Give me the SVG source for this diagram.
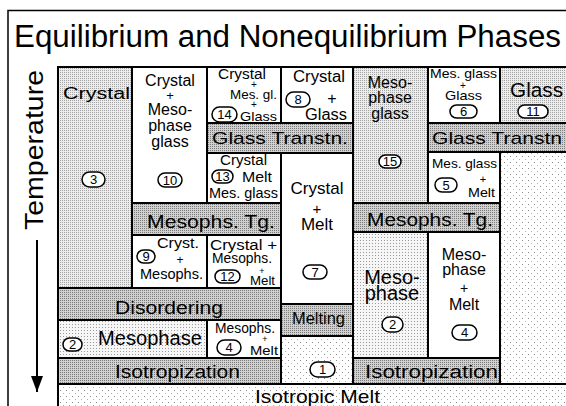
<svg xmlns="http://www.w3.org/2000/svg" width="566" height="406" viewBox="0 0 566 406">
<style>
text{font-family:"Liberation Sans",Arial,sans-serif;fill:#000}
.c{text-anchor:middle}
.cell{stroke:#000;stroke-width:2}
.white{fill:#fff}
.stip{fill:url(#pStip)}
.band{fill:url(#pBand)}
.meso{fill:url(#pMeso)}
.melt{fill:url(#pMelt)}
.badge{fill:#fff;stroke:#000;stroke-width:1.5}
.bn{font-size:13px;text-anchor:middle}
</style>
<defs>
<pattern id="pStip" width="2" height="2" patternUnits="userSpaceOnUse"><rect width="2" height="2" fill="#ececec"/><rect width="1" height="1" fill="#a4a4a4"/></pattern>
<pattern id="pBand" width="2" height="2" patternUnits="userSpaceOnUse"><rect width="2" height="2" fill="#d0d0d0"/><rect width="1" height="1" fill="#7c7c7c"/></pattern>
<pattern id="pMeso" width="3" height="3" patternUnits="userSpaceOnUse"><rect width="3" height="3" fill="#f6f6f6"/><rect width="1" height="1" fill="#9a9a9a"/></pattern>
<pattern id="pMelt" width="6" height="6" patternUnits="userSpaceOnUse"><rect width="6" height="6" fill="#fff"/><rect width="1" height="1" fill="#8a8a8a"/><rect x="3" y="3" width="1" height="1" fill="#b0b0b0"/></pattern>
<marker id="arr" viewBox="0 0 16 12" refX="16" refY="6" markerWidth="16" markerHeight="12" markerUnits="userSpaceOnUse" orient="auto"><path d="M0,0 L16,6 L0,12 Z" fill="#000"/></marker>
</defs>
<rect width="566" height="406" fill="#fff"/>
<g id="frame" stroke="#000" stroke-width="1.5" fill="none"><path d="M8,406 V10.5 H566"/></g>
<g id="title"><text x="14" y="47" font-size="31" textLength="547" lengthAdjust="spacingAndGlyphs">Equilibrium and Nonequilibrium Phases</text></g>
<g id="axis"><text transform="translate(43,150) rotate(-90)" class="c" font-size="26" textLength="160" lengthAdjust="spacingAndGlyphs">Temperature</text></g>

<g id="isotropic-melt">
<path class="melt cell" d="M58,384 H570 V410 H58 Z"/>
<rect class="melt cell" x="500" y="152" width="70" height="232"/>
<text x="255" y="403" font-size="19" textLength="125" lengthAdjust="spacingAndGlyphs">Isotropic Melt</text>
</g>
<g id="n3"><rect class="stip cell" x="58" y="67" width="74" height="221"/>
<text x="63" y="99" font-size="16" textLength="67" lengthAdjust="spacingAndGlyphs">Crystal</text>
<rect class="badge" x="82" y="172" width="23" height="15" rx="7.5"/><text class="bn" x="93.5" y="184">3</text></g>
<g id="n10"><rect class="white cell" x="132" y="67" width="75" height="136"/>
<g font-size="16" class="c"><text x="170" y="86">Crystal</text><text x="170" y="100" font-size="13">+</text><text x="170" y="115">Meso-</text><text x="170" y="131">phase</text><text x="170" y="147">glass</text></g>
<rect class="badge" x="158" y="173" width="24" height="14" rx="7"/><text class="bn" x="170" y="185">10</text></g>
<g id="n14"><rect class="white cell" x="207" y="67" width="74" height="56"/>
<text x="218" y="79" font-size="14" textLength="48" lengthAdjust="spacingAndGlyphs">Crystal</text>
<text class="c" x="254" y="88" font-size="10">+</text>
<text x="230" y="99" font-size="13" textLength="47" lengthAdjust="spacingAndGlyphs">Mes. gl.</text>
<text class="c" x="254" y="108" font-size="10">+</text>
<rect class="badge" x="212" y="107" width="25" height="15" rx="7.5"/><text class="bn" x="224.5" y="119">14</text>
<text x="240" y="121" font-size="13" textLength="37" lengthAdjust="spacingAndGlyphs">Glass</text></g>
<g id="n8"><rect class="white cell" x="281" y="67" width="72" height="56"/>
<text x="293" y="82" font-size="16" textLength="52" lengthAdjust="spacingAndGlyphs">Crystal</text>
<rect class="badge" x="286" y="92" width="24" height="15" rx="7.5"/><text class="bn" x="298" y="104">8</text>
<text class="c" x="332" y="104" font-size="16">+</text>
<text x="305" y="120" font-size="16" textLength="42" lengthAdjust="spacingAndGlyphs">Glass</text></g>
<g id="glass-transition-left"><rect class="band cell" x="207" y="123" width="146" height="30"/>
<text x="212" y="144" font-size="17" textLength="136" lengthAdjust="spacingAndGlyphs">Glass Transtn.</text></g>
<g id="n13"><rect class="white cell" x="207" y="153" width="74" height="50"/>
<text x="220" y="165" font-size="14" textLength="47" lengthAdjust="spacingAndGlyphs">Crystal</text>
<rect class="badge" x="212" y="170" width="21" height="13" rx="6.5"/><text class="bn" x="222.5" y="181" font-size="12">13</text>
<text x="242" y="182" font-size="14" textLength="30" lengthAdjust="spacingAndGlyphs">Melt</text>
<text x="209" y="198" font-size="14" textLength="69" lengthAdjust="spacingAndGlyphs">Mes. glass</text></g>
<g id="n7"><rect class="white cell" x="281" y="153" width="72" height="151"/>
<g class="c" font-size="17"><text x="317" y="194">Crystal</text><text x="317" y="214" font-size="15">+</text><text x="317" y="230">Melt</text></g>
<rect class="badge" x="303" y="265" width="24" height="14" rx="7"/><text class="bn" x="315" y="277">7</text></g>
<g id="n15"><rect class="stip cell" x="353" y="67" width="75" height="136"/>
<g class="c" font-size="16"><text x="390" y="88">Meso-</text><text x="390" y="103">phase</text><text x="390" y="119">glass</text></g>
<rect class="badge" x="379" y="155" width="22" height="13" rx="6.5"/><text class="bn" x="390" y="166">15</text></g>
<g id="n6"><rect class="white cell" x="428" y="67" width="72" height="56"/>
<text x="430" y="78" font-size="13" textLength="67" lengthAdjust="spacingAndGlyphs">Mes. glass</text>
<text class="c" x="463" y="89" font-size="10">+</text>
<text x="445" y="100" font-size="13" textLength="37" lengthAdjust="spacingAndGlyphs">Glass</text>
<rect class="badge" x="450" y="105" width="27" height="13" rx="6.5"/><text class="bn" x="463.5" y="116">6</text></g>
<g id="n11"><rect class="stip cell" x="500" y="67" width="70" height="56"/>
<text x="510" y="97" font-size="20" textLength="53" lengthAdjust="spacingAndGlyphs">Glass</text>
<rect class="badge" x="518" y="105" width="30" height="13" rx="6.5"/><text class="bn" x="533" y="116">11</text></g>
<g id="glass-transition-right"><rect class="band cell" x="428" y="123" width="142" height="29"/>
<text x="432" y="144" font-size="17" textLength="130" lengthAdjust="spacingAndGlyphs">Glass Transtn</text></g>
<g id="n5"><rect class="white cell" x="428" y="152" width="72" height="51"/>
<text x="432" y="168" font-size="13" textLength="65" lengthAdjust="spacingAndGlyphs">Mes. glass</text>
<rect class="badge" x="435" y="178" width="22" height="14" rx="7"/><text class="bn" x="446" y="190">5</text>
<text class="c" x="483" y="183" font-size="11">+</text>
<text x="468" y="197" font-size="13" textLength="27" lengthAdjust="spacingAndGlyphs">Melt</text></g>
<g id="mesophase-tg-left"><rect class="band cell" x="132" y="203" width="149" height="32"/>
<text x="147" y="228" font-size="18" textLength="128" lengthAdjust="spacingAndGlyphs">Mesophs. Tg.</text></g>
<g id="mesophase-tg-right"><rect class="band cell" x="353" y="203" width="147" height="29"/>
<text x="367" y="226" font-size="18" textLength="126" lengthAdjust="spacingAndGlyphs">Mesophs. Tg.</text></g>
<g id="n9"><rect class="white cell" x="132" y="235" width="75" height="53"/>
<rect class="badge" x="137" y="250" width="18" height="13" rx="6.5"/><text class="bn" x="146" y="261">9</text>
<text x="157" y="248" font-size="14" textLength="42" lengthAdjust="spacingAndGlyphs">Cryst.</text>
<text class="c" x="180" y="264" font-size="12">+</text>
<text x="140" y="279" font-size="14" textLength="63" lengthAdjust="spacingAndGlyphs">Mesophs.</text></g>
<g id="n12"><rect class="white cell" x="207" y="235" width="74" height="53"/>
<text x="210" y="250" font-size="14" textLength="67" lengthAdjust="spacingAndGlyphs">Crystal +</text>
<text x="212" y="263" font-size="14" textLength="60" lengthAdjust="spacingAndGlyphs">Mesophs.</text>
<rect class="badge" x="215" y="270" width="25" height="13" rx="6.5"/><text class="bn" x="227.5" y="281">12</text>
<text class="c" x="262" y="274" font-size="9">+</text>
<text x="250" y="285" font-size="13" textLength="25" lengthAdjust="spacingAndGlyphs">Melt</text></g>
<g id="disordering"><rect class="band cell" x="58" y="288" width="223" height="32"/>
<text x="115" y="314" font-size="18" textLength="108" lengthAdjust="spacingAndGlyphs">Disordering</text></g>
<g id="n2-left"><rect class="meso cell" x="58" y="320" width="149" height="38"/>
<rect class="badge" x="63" y="338" width="19" height="13" rx="6.5"/><text class="bn" x="72.5" y="349">2</text>
<text x="98" y="345" font-size="20" textLength="104" lengthAdjust="spacingAndGlyphs">Mesophase</text></g>
<g id="n4-left"><rect class="white cell" x="207" y="320" width="74" height="38"/>
<text x="215" y="333" font-size="14" textLength="60" lengthAdjust="spacingAndGlyphs">Mesophs.</text>
<rect class="badge" x="217" y="340" width="24" height="15" rx="7.5"/><text class="bn" x="229" y="352">4</text>
<text class="c" x="265" y="342" font-size="9">+</text>
<text x="250" y="355" font-size="13" textLength="28" lengthAdjust="spacingAndGlyphs">Melt</text></g>
<g id="isotropization-left"><rect class="band cell" x="58" y="358" width="223" height="26"/>
<text x="115" y="378" font-size="18" textLength="125" lengthAdjust="spacingAndGlyphs">Isotropization</text></g>
<g id="melting"><rect class="band cell" x="281" y="304" width="72" height="32"/>
<text x="292" y="324" font-size="16" textLength="53" lengthAdjust="spacingAndGlyphs">Melting</text></g>
<g id="n1"><rect class="melt cell" x="281" y="336" width="72" height="48"/>
<rect class="badge" x="310" y="362" width="25" height="15" rx="7.5"/><text class="bn" x="322.5" y="374">1</text></g>
<g id="n2-right"><rect class="meso cell" x="353" y="232" width="75" height="126"/>
<g class="c" font-size="20"><text x="392" y="284">Meso-</text><text x="392" y="300">phase</text></g>
<rect class="badge" x="382" y="317" width="21" height="15" rx="7.5"/><text class="bn" x="392.5" y="329">2</text></g>
<g id="n4-right"><rect class="white cell" x="428" y="232" width="72" height="126"/>
<g class="c" font-size="16"><text x="464" y="260">Meso-</text><text x="464" y="275">phase</text><text x="464" y="293" font-size="14">+</text><text x="464" y="310">Melt</text></g>
<rect class="badge" x="452" y="325" width="25" height="15" rx="7.5"/><text class="bn" x="464.5" y="337">4</text></g>
<g id="isotropization-right"><rect class="band cell" x="353" y="358" width="147" height="26"/>
<text x="365" y="378" font-size="18" textLength="133" lengthAdjust="spacingAndGlyphs">Isotropization</text></g>

<g id="connectors"><path d="M37,240 V392" stroke="#000" stroke-width="2" fill="none" marker-end="url(#arr)"/></g>
</svg>
